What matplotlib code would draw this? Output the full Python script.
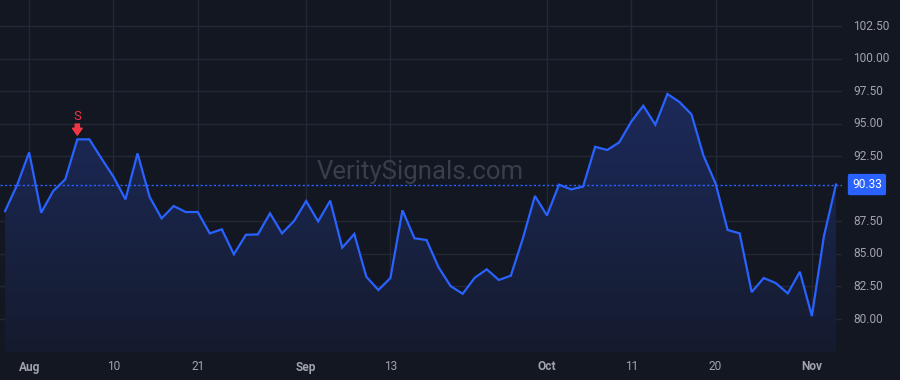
import numpy as np
import pandas as pd
import matplotlib
matplotlib.use("Agg")
import matplotlib.pyplot as plt
from matplotlib.patches import Polygon
import matplotlib.transforms as mtransforms
from matplotlib.colors import LinearSegmentedColormap

# ---------------- data ----------------
holidays = ["2023-09-04"]
dates = [d for d in pd.bdate_range("2023-07-28", "2023-11-03") if d.strftime("%Y-%m-%d") not in holidays]

values = [
    88.29, 90.29, 92.80, 88.17, 89.83, 90.73, 93.80, 93.80, 92.34, 90.93,
    89.19, 92.72, 89.39, 87.73, 88.68, 88.22, 88.22, 86.58, 86.89, 84.97,
    86.47, 86.50, 88.12, 86.58, 87.53, 89.06, 87.50, 89.09, 85.48, 86.53,
    83.25, 82.23, 83.15, 88.35, 86.20, 86.07, 83.97, 82.53, 81.94, 83.17,
    83.82, 83.00, 83.33, 86.20, 89.45, 87.96, 90.32, 89.96, 90.17, 93.23,
    92.98, 93.57, 95.16, 96.38, 94.92, 97.28, 96.67, 95.72, 92.54, 90.42,
    86.84, 86.58, 82.07, 83.15, 82.76, 81.97, 83.63, 80.23, 86.37, 90.33,
]

tick_dates = ["2023-08-01", "2023-08-10", "2023-08-21", "2023-09-01", "2023-09-13",
              "2023-10-02", "2023-10-11", "2023-10-20", "2023-11-01"]
tick_labels = ["Aug", "10", "21", "Sep", "13", "Oct", "11", "20", "Nov"]
month_labels = {"Aug", "Sep", "Oct", "Nov"}

y_ticks = [80.00, 82.50, 85.00, 87.50, 92.50, 95.00, 97.50, 100.00, 102.50]
last_price = 90.33
signal_index = 6
signal_label = "S"
watermark = "VeritySignals.com"

# ---------------- style ----------------
BG = "#131722"
GRID = "#242835"
LINE = "#2962ff"
TXT = "#a0a3ac"
RED = "#f23645"

fig = plt.figure(figsize=(9, 3.8), dpi=100, facecolor=BG)
ax = fig.add_axes([0, 28 / 380, 842 / 900, 352 / 380])
ax.set_facecolor(BG)

x = np.arange(len(values))
y = np.array(values)

ax.set_xlim(-0.42, 69.5)
ax.set_ylim(77.47, 104.5)

# gridlines
date_strs = [d.strftime("%Y-%m-%d") for d in dates]
tick_pos = [date_strs.index(t) for t in tick_dates]
for tp in tick_pos:
    ax.axvline(tp, color=GRID, lw=1, zorder=0)
for yt in y_ticks:
    ax.axhline(yt, color=GRID, lw=1, zorder=0)

# gradient fill
ymin = ax.get_ylim()[0]
grad = np.linspace(0, 1, 256).reshape(-1, 1)
cmap = LinearSegmentedColormap.from_list("g", ["#151b2e", "#1c2a5a"])
verts = np.vstack([[x[0], ymin], np.column_stack([x, y]), [x[-1], ymin]])
poly = Polygon(verts, closed=True, facecolor="none", edgecolor="none")
ax.add_patch(poly)
im = ax.imshow(grad, aspect="auto", cmap=cmap, origin="lower",
               extent=[x[0], x[-1], ymin, y.max()], zorder=1)
im.set_clip_path(poly)

ax.plot(x, y, color=LINE, lw=1.6, zorder=3, solid_joinstyle="miter")

# last price dotted line
ax.axhline(last_price, color=LINE, lw=1.0, ls=(0, (1.6, 1.6)), zorder=2)
trans = mtransforms.blended_transform_factory(ax.transAxes, ax.transData)
ax.text(1.0 + 10 / 842, last_price, f"{last_price:.2f}", transform=trans,
        ha="left", va="center", color="white", fontsize=8.6, family="Roboto",
        bbox=dict(boxstyle="round,pad=0.35,rounding_size=0.15", fc=LINE, ec="none"),
        clip_on=False, zorder=5)

# right axis labels
for yt in y_ticks:
    ax.text(1.0 + 11 / 842, yt, f"{yt:.2f}", transform=trans, ha="left", va="center",
            color=TXT, fontsize=8.6, family="Roboto", clip_on=False)

# bottom labels
xtrans = mtransforms.blended_transform_factory(ax.transData, ax.transAxes)
for tp, lab in zip(tick_pos, tick_labels):
    ax.text(tp, -15 / 352, lab, transform=xtrans,
            ha="center", va="center", color=TXT, fontsize=8.6, family="Roboto",
            fontweight="bold" if lab in month_labels else "normal", clip_on=False)

# signal marker
ax.annotate("", xy=(signal_index, values[signal_index]), xytext=(0, 11),
            textcoords="offset points",
            arrowprops=dict(arrowstyle="simple,head_width=0.7,head_length=0.5,tail_width=0.3",
                            color=RED, shrinkA=0, shrinkB=3), zorder=4)
ax.annotate(signal_label, xy=(signal_index, values[signal_index]), xytext=(0, 12),
            textcoords="offset points", ha="center", va="bottom", color=RED,
            fontsize=9.5, family="Roboto")

# watermark
ax.text(420 / 842, (380 - 172 - 28) / 352, watermark, transform=ax.transAxes,
        ha="center", va="center", color="#3a3e4b", fontsize=18.5, family="Roboto", zorder=1.5)

ax.set_xticks([])
ax.set_yticks([])
for s in ax.spines.values():
    s.set_visible(False)

fig.savefig("out.png", dpi=100, facecolor=BG)
